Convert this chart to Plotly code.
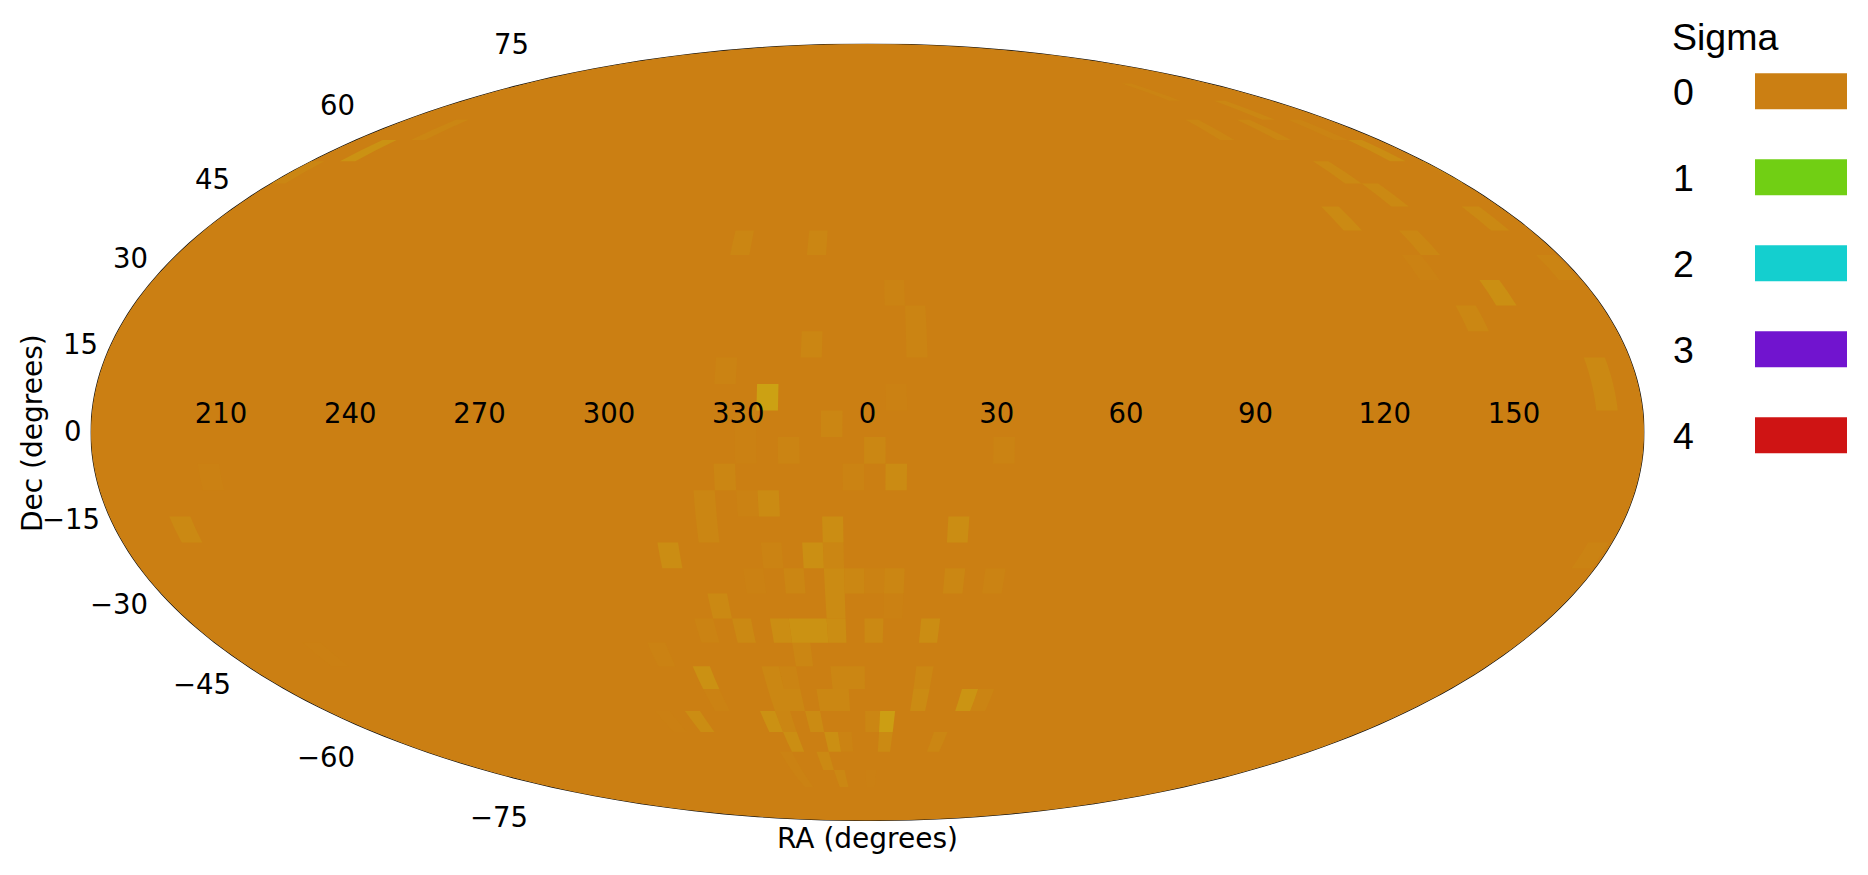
import colorsys
import numpy as np
import plotly.graph_objects as go

W, H = 1868, 875

# legend
sigma_levels = [0, 1, 2, 3, 4]
sigma_colors = ["#cb7f13", "#71cf14", "#14cfcf", "#7114cf", "#cf1414"]

# axis labels
ra_ticks = [210, 240, 270, 300, 330, 0, 30, 60, 90, 120, 150]
dec_ticks = ["75", "60", "45", "30", "15", "0", "\u221215", "\u221230", "\u221245", "\u221260", "\u221275"]

# map cells that differ from the sigma 0 background (centre RA, centre Dec, sigma), north to south
cell_ra = [136.7, 156.7,
           126.7, 146.7, 166.7, 201.7,
           171.7, 191.7,
           146.7, 181.7,
           151.7,
           131.7, 171.7,
           146.7, 326.7, 346.7,
           176.7, 141.7,
           156.7, 6.7,
           146.7, 11.7,
           11.7, 346.7,
           171.7, 326.7,
           171.7, 336.7, 6.7,
           351.7, 331.7,
           341.7, 1.7, 331.7, 31.7,
           326.7, 356.7, 6.7, 206.7,
           321.7, 336.7, 331.7,
           321.7, 351.7, 21.7, 196.7,
           311.7, 346.7, 336.7, 351.7, 176.7,
           351.7, 356.7, 6.7, 21.7, 31.7, 341.7, 331.7, 1.7,
           321.7, 351.7, 6.7,
           316.7, 326.7, 336.7, 341.7, 346.7, 351.7, 1.7, 16.7,
           301.7, 341.7, 206.7,
           311.7, 331.7, 336.7, 351.7, 356.7, 16.7,
           311.7, 331.7, 336.7, 346.7, 351.7, 16.7, 31.7, 36.7,
           301.7, 291.7, 326.7, 331.7, 341.7, 1.7, 6.7,
           331.7, 346.7, 351.7, 6.7, 26.7,
           341.7, 326.7,
           346.7, 326.7, 1.7]
cell_dec = [71.6, 66.6,
            61.6, 61.6, 61.6, 61.6,
            56.6, 56.6,
            51.6, 51.6,
            46.6,
            41.6, 41.6,
            36.6, 36.6, 36.6,
            31.6, 31.6,
            26.6, 26.6,
            21.6, 21.6,
            16.6, 16.6,
            11.6, 11.6,
            6.6, 6.6, 6.6,
            1.6, 1.6,
            -3.4, -3.4, -3.4, -3.4,
            -8.4, -8.4, -8.4, -8.4,
            -13.4, -13.4, -13.4,
            -18.4, -18.4, -18.4, -18.4,
            -23.4, -23.4, -23.4, -23.4, -23.4,
            -28.4, -28.4, -28.4, -28.4, -28.4, -28.4, -28.4, -28.4,
            -33.4, -33.4, -33.4,
            -38.4, -38.4, -38.4, -38.4, -38.4, -38.4, -38.4, -38.4,
            -43.4, -43.4, -43.4,
            -48.4, -48.4, -48.4, -48.4, -48.4, -48.4,
            -53.4, -53.4, -53.4, -53.4, -53.4, -53.4, -53.4, -53.4,
            -58.4, -58.4, -58.4, -58.4, -58.4, -58.4, -58.4,
            -63.4, -63.4, -63.4, -63.4, -63.4,
            -68.4, -68.4,
            -73.4, -73.4, -73.4]
cell_sigma = [0.032, 0.048,
              0.04, 0.048, 0.032, 0.04,
              0.08, 0.112,
              0.056, 0.04,
              0.056,
              0.064, 0.056,
              0.048, 0.04, 0.04,
              0.032, 0.016,
              0.096, 0.024,
              0.048, 0.032,
              0.032, 0.04,
              0.056, 0.024,
              0.056, 0.2, 0.012,
              0.04, 0.012,
              0.032, 0.048, 0.012, 0.024,
              0.04, 0.024, 0.072, 0.012,
              0.04, 0.072, 0.016,
              0.04, 0.08, 0.08, 0.056,
              0.08, 0.096, 0.024, 0.04, 0.024,
              0.072, 0.048, 0.04, 0.048, 0.024, 0.04, 0.012, 0.016,
              0.056, 0.072, 0.012,
              0.024, 0.056, 0.08, 0.112, 0.112, 0.08, 0.056, 0.08,
              0.016, 0.04, 0.008,
              0.104, 0.048, 0.032, 0.04, 0.04, 0.048,
              0.016, 0.048, 0.048, 0.048, 0.048, 0.072, 0.12, 0.032,
              0.08, 0.008, 0.104, 0.04, 0.072, 0.04, 0.18,
              0.088, 0.096, 0.024, 0.064, 0.04,
              0.056, 0.016,
              0.048, 0.016, 0.008]

CELL = 5.0


def sigma_to_color(s):
    # hue runs from the sigma 0 colour towards the sigma 1 colour
    rgb0 = [int(sigma_colors[0][i:i + 2], 16) / 255 for i in (1, 3, 5)]
    rgb1 = [int(sigma_colors[1][i:i + 2], 16) / 255 for i in (1, 3, 5)]
    h0, s0, v0 = colorsys.rgb_to_hsv(*rgb0)
    h1, s1, v1 = colorsys.rgb_to_hsv(*rgb1)
    r, g, b = colorsys.hsv_to_rgb(h0 + (h1 - h0) * s, s0 + (s1 - s0) * s, v0 + (v1 - v0) * s)
    return f"rgb({round(r * 255)},{round(g * 255)},{round(b * 255)})"


def wrap_lon(ra):
    return ((np.asarray(ra, dtype=float) + 180) % 360) - 180


def cell_outline(ra, dec):
    # clockwise seen from outside the sphere, d3 would fill the complement otherwise
    lon = float(wrap_lon(ra))
    w, e = lon - CELL / 2, lon + CELL / 2
    s, n = dec - CELL / 2, dec + CELL / 2
    top = np.linspace(w, e, 6)
    lons = [w, *top, e, *top[::-1]]
    lats = [s, *[n] * 6, s, *[s] * 6]
    return lons, lats


fig = go.Figure()

# whole sky at sigma 0
side = np.linspace(-89.99, 89.99, 73)
across = np.linspace(-179.99, 179.99, 145)
fig.add_trace(go.Scattergeo(
    lon=np.r_[np.full_like(side, -179.99), across, np.full_like(side, 179.99), across[::-1]],
    lat=np.r_[side, np.full_like(across, 89.99), side[::-1], np.full_like(across, -89.99)],
    mode="lines", fill="toself", fillcolor=sigma_colors[0],
    line=dict(width=0, color=sigma_colors[0]), hoverinfo="skip", showlegend=False))

# one trace per sigma value
for s in sorted(set(cell_sigma)):
    lons, lats = [], []
    for ra, dec, v in zip(cell_ra, cell_dec, cell_sigma):
        if v == s:
            a, b = cell_outline(ra, dec)
            lons += a + [None]
            lats += b + [None]
    fig.add_trace(go.Scattergeo(
        lon=lons, lat=lats, mode="lines", fill="toself", fillcolor=sigma_to_color(s),
        line=dict(width=0, color=sigma_to_color(s)), hoverinfo="skip", showlegend=False))

# RA labels sit just above the equator
fig.add_trace(go.Scattergeo(
    lon=wrap_lon(ra_ticks), lat=[3.0] * len(ra_ticks), mode="text",
    text=[str(t) for t in ra_ticks], textposition="middle center",
    textfont=dict(family="DejaVu Sans", size=27.5, color="black"),
    hoverinfo="skip", showlegend=False))

fig.update_geos(
    projection_type="mollweide",
    domain=dict(x=[90.5 / W, 1644.5 / W], y=[1 - 820.5 / H, 1 - 44 / H]),
    showland=False, showocean=False, showlakes=False, showrivers=False,
    showcountries=False, showsubunits=False, showcoastlines=False,
    showframe=True, framecolor="#111111", framewidth=1.2,
    bgcolor="white",
)


def label(text, px, py, size, family="DejaVu Sans", angle=0):
    fig.add_annotation(text=text, x=px / W, y=1 - py / H, xref="paper", yref="paper",
                       xanchor="center", yanchor="middle", showarrow=False, textangle=angle,
                       font=dict(family=family, size=size, color="black"))


# Dec labels follow the outside of the ellipse
dec_label_px = [(511, 44), (337, 105), (212, 179), (130, 258), (80, 344), (73, 431),
                (71, 519), (119, 604), (202, 684), (326, 757), (499, 817)]
for t, (px, py) in zip(dec_ticks, dec_label_px):
    label(t, px, py, 27.5)

label("RA (degrees)", 867, 838, 28)
label("Dec (degrees)", 32, 433, 28, angle=-90)

# legend
label("Sigma", 1725, 37, 37.5, family="Liberation Sans")
for i, (lev, col) in enumerate(zip(sigma_levels, sigma_colors)):
    top = 73.3 + 86 * i
    label(str(lev), 1683, top + 19, 37.5, family="Liberation Sans")
    fig.add_shape(type="rect", xref="paper", yref="paper", x0=1755 / W, x1=1847 / W,
                  y0=1 - (top + 36) / H, y1=1 - top / H, fillcolor=col, line_width=0)

fig.update_layout(width=W, height=H, margin=dict(l=0, r=0, t=0, b=0),
                  paper_bgcolor="white", showlegend=False)

# the page's default body margin would push the figure 8px in
fig.write_html("out.html", config=dict(displayModeBar=False),
               post_script="document.body.style.margin='0';")
